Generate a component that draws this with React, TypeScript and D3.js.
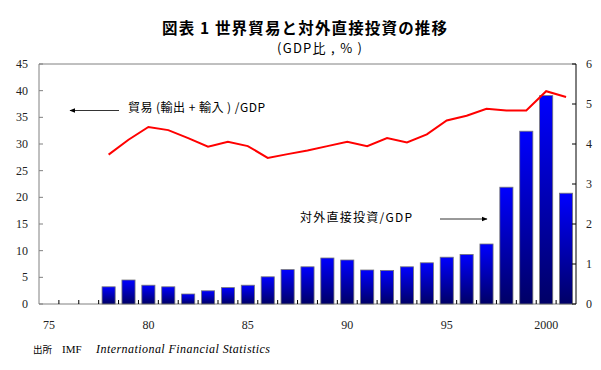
import React from 'react';
import * as d3 from 'd3';

const years = [1975, 1976, 1977, 1978, 1979, 1980, 1981, 1982, 1983, 1984, 1985, 1986, 1987, 1988, 1989,
    1990, 1991, 1992, 1993, 1994, 1995, 1996, 1997, 1998, 1999, 2000, 2001];

// 対外直接投資/GDP (right axis, %)
const fdiValues = [null, null, null, 0.43, 0.6, 0.47, 0.43, 0.25, 0.33, 0.41, 0.47, 0.68, 0.86, 0.93, 1.15,
    1.1, 0.85, 0.84, 0.93, 1.03, 1.17, 1.24, 1.5, 2.92, 4.32, 5.21, 2.77];

// 貿易(輸出+輸入)/GDP (left axis, %)
const tradeValues = [null, null, null, 28.0, 30.8, 33.2, 32.6, 31.1, 29.5, 30.4, 29.6, 27.4, 28.1, 28.8, 29.6,
    30.4, 29.6, 31.1, 30.3, 31.8, 34.4, 35.3, 36.6, 36.3, 36.3, 39.9, 38.8];

const xTickYears = [1975, 1980, 1985, 1990, 1995, 2000];
const xTickLabels = ['75', '80', '85', '90', '95', '2000'];
const leftTicks = [0, 5, 10, 15, 20, 25, 30, 35, 40, 45];
const rightTicks = [0, 1, 2, 3, 4, 5, 6];

const W = 601;
const H = 370;
const margin = { top: 64, right: 25, bottom: 66, left: 39 };

export default function App() {
    const innerW = W - margin.left - margin.right;
    const innerH = H - margin.top - margin.bottom;

    const x = d3.scaleBand<number>()
        .domain(years)
        .range([0, innerW])
        .paddingInner(0)
        .paddingOuter(0);
    const yLeft = d3.scaleLinear().domain([0, 45]).range([innerH, 0]);
    const yRight = d3.scaleLinear().domain([0, 6]).range([innerH, 0]);

    const barW = x.bandwidth() * 0.66;

    const line = d3.line<number | null>()
        .defined(d => d !== null)
        .x((d, i) => (x(years[i]) as number) + x.bandwidth() / 2)
        .y(d => yLeft(d as number));

    const serif = '"Liberation Serif", "DejaVu Serif", serif';
    const jp = '"Noto Sans CJK JP", sans-serif';

    return (
        <svg width={W} height={H} style={{ position: 'absolute', left: 0, top: 0, background: '#fff' }}>
            <defs>
                <linearGradient id="barGrad" x1="0" y1="0" x2="0" y2="1">
                    <stop offset="0%" stopColor="#0000ff" />
                    <stop offset="100%" stopColor="#000066" />
                </linearGradient>
                <marker id="arrow" viewBox="0 0 10 10" refX="9" refY="5" markerWidth="7" markerHeight="7" orient="auto">
                    <path d="M0,1 L10,5 L0,9 z" fill="#000" />
                </marker>
            </defs>

            {/* Title */}
            <text x={162} y={34} textAnchor="start" fontFamily={jp} fontWeight="bold" fontSize={15.5}
                textLength={285} lengthAdjust="spacing">
                図表 1  世界貿易と対外直接投資の推移
            </text>
            <text x={277} y={53} textAnchor="start" fontFamily={jp} fontSize={13}
                textLength={85} lengthAdjust="spacing">
                (GDP比 , % )
            </text>

            <g transform={`translate(${margin.left},${margin.top})`}>
                {/* frame */}
                <line x1={0} x2={innerW} y1={0} y2={0} stroke="#808080" />
                <line x1={0} x2={0} y1={0} y2={innerH} stroke="#808080" />
                <line x1={0} x2={innerW} y1={innerH} y2={innerH} stroke="#808080" />
                <line x1={innerW} x2={innerW} y1={0} y2={innerH} stroke="#000" />

                {/* bars */}
                {fdiValues.map((v, i) => v === null ? null : (
                    <rect key={years[i]}
                        x={(x(years[i]) as number) + (x.bandwidth() - barW) / 2}
                        y={yRight(v)}
                        width={barW}
                        height={innerH - yRight(v)}
                        fill="url(#barGrad)"
                        stroke="#777"
                        strokeWidth={0.8} />
                ))}

                {/* x ticks at band boundaries */}
                {years.slice(1).map(yr => (
                    <line key={yr} x1={x(yr) as number} x2={x(yr) as number} y1={innerH} y2={innerH - 4} stroke="#000" />
                ))}
                {xTickYears.map((yr, i) => (
                    <text key={yr} x={(x(yr) as number) + x.bandwidth() / 2} y={innerH + 25}
                        textAnchor="middle" fontFamily={serif} fontSize={12} fill="#222">
                        {xTickLabels[i]}
                    </text>
                ))}

                {/* left axis */}
                {leftTicks.map(t => (
                    <g key={t}>
                        <line x1={0} x2={4} y1={yLeft(t)} y2={yLeft(t)} stroke="#808080" />
                        <text x={-11} y={yLeft(t) + 4} textAnchor="end" fontFamily={serif} fontSize={12} fill="#222">{t}</text>
                    </g>
                ))}
                {/* right axis */}
                {rightTicks.map(t => (
                    <g key={t}>
                        <line x1={innerW - 4} x2={innerW} y1={yRight(t)} y2={yRight(t)} stroke="#000" />
                        <text x={innerW + 10} y={yRight(t) + 4} textAnchor="start" fontFamily={serif} fontSize={12} fill="#222">{t}</text>
                    </g>
                ))}

                {/* trade line */}
                <path d={line(tradeValues) || ''} fill="none" stroke="#ff0000" strokeWidth={2} />
            </g>

            {/* annotations */}
            <line x1={119} x2={70} y1={110.5} y2={110.5} stroke="#000" strokeWidth={0.8} markerEnd="url(#arrow)" />
            <text x={128} y={112} fontFamily={jp} fontSize={12} textLength={137} lengthAdjust="spacing">
                貿易 (輸出 + 輸入 ) /GDP
            </text>

            <text x={300} y={222} fontFamily={jp} fontSize={12} textLength={112} lengthAdjust="spacing">
                対外直接投資/GDP
            </text>
            <line x1={440} x2={487} y1={219} y2={219} stroke="#000" strokeWidth={0.8} markerEnd="url(#arrow)" />

            {/* source */}
            <text x={33} y={353} fontFamily={serif} fontSize={11}>
                <tspan fontFamily={jp} fontSize={9.5}>出所</tspan>
                <tspan x={62}>IMF</tspan>
                <tspan x={96} fontStyle="italic" fontSize={12} textLength={174} lengthAdjust="spacing">
                    International Financial Statistics
                </tspan>
            </text>
        </svg>
    );
}
